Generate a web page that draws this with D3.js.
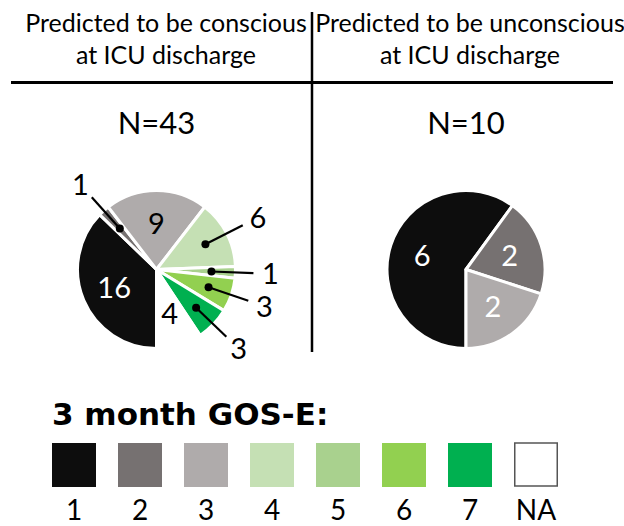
<!DOCTYPE html>
<html><head><meta charset="utf-8">
<script src="https://cdn.jsdelivr.net/npm/d3@7"></script>
<style>
html,body{margin:0;padding:0;background:#fff;}
svg{display:block;}
</style></head>
<body>
<svg id="chart" width="624" height="526"></svg>
<script>
// ---- data ----
const gosCategories = ["1", "2", "3", "4", "5", "6", "7", "NA"];
const gosColors = ["#0d0d0d", "#767171", "#afabab", "#c5e0b4", "#a9d18e", "#92d050", "#00b050", "#ffffff"];
const consciousCounts = [16, 1, 9, 6, 1, 3, 3, 4];
const unconsciousCounts = [6, 2, 2, 0, 0, 0, 0, 0];
const groupTitles = [["Predicted to be conscious", "at ICU discharge"], ["Predicted to be unconscious", "at ICU discharge"]];
const groupN = ["N=43", "N=10"];
const legendTitle = "3 month GOS-E:";
// slices labelled outside with leader lines (left pie)
const consciousOutside = ["2", "4", "5", "6", "7"];
const consciousLabelColor = ["#fff", "#000", "#000", "#000", "#000", "#000", "#000", "#000"];
const unconsciousLabelColor = ["#fff", "#fff", "#fff", "#000", "#000", "#000", "#000", "#000"];

const svg = d3.select("#chart");
const font = "Lato, 'Open Sans', sans-serif";

// ---- headers ----
const headerX = [166, 470];
groupTitles.forEach((lines, i) => {
  lines.forEach((t, j) => {
    svg.append("text").attr("x", headerX[i]).attr("y", 32 + j * 32)
      .attr("text-anchor", "middle").attr("font-family", font).attr("font-size", 25)
      .attr("fill", "#000").text(t);
  });
});
svg.append("line").attr("x1", 11).attr("x2", 613).attr("y1", 82.5).attr("y2", 82.5)
  .attr("stroke", "#000").attr("stroke-width", 3);
svg.append("line").attr("x1", 312).attr("x2", 312).attr("y1", 12).attr("y2", 352)
  .attr("stroke", "#000").attr("stroke-width", 2.5);

const pieCenters = [[156.5, 269.5], [466, 269.5]];
groupN.forEach((t, i) => {
  svg.append("text").attr("x", pieCenters[i][0]).attr("y", 134)
    .attr("text-anchor", "middle").attr("font-family", font).attr("font-size", 31)
    .attr("fill", "#000").text(t);
});

// ---- pies ----
const R = 79;
const pie = d3.pie().sort(null).value(d => d.v).startAngle(Math.PI).endAngle(3 * Math.PI);
const arc = d3.arc().innerRadius(0).outerRadius(R);

function polar(a, r) { return [Math.sin(a) * r, -Math.cos(a) * r]; }

function drawPie(counts, center, outside, labelColors) {
  const data = gosCategories.map((c, i) => ({ c, v: counts[i], col: gosColors[i], lc: labelColors[i] }));
  const arcs = pie(data).filter(d => d.data.v > 0);
  const g = svg.append("g").attr("transform", `translate(${center[0]},${center[1]})`);
  g.selectAll("path.slice").data(arcs).join("path").attr("class", "slice")
    .attr("d", arc).attr("fill", d => d.data.col)
    .attr("stroke", "#fff").attr("stroke-width", 3).attr("stroke-linejoin", "round");
  arcs.forEach(d => {
    const mid = (d.startAngle + d.endAngle) / 2;
    if (outside.includes(d.data.c)) {
      const p0 = polar(mid, 55), p1 = polar(mid, 97), pl = polar(mid, 114);
      g.append("line").attr("x1", p0[0]).attr("y1", p0[1]).attr("x2", p1[0]).attr("y2", p1[1])
        .attr("stroke", "#000").attr("stroke-width", 2.2);
      g.append("circle").attr("cx", p0[0]).attr("cy", p0[1]).attr("r", 4).attr("fill", "#000");
      g.append("text").attr("x", pl[0]).attr("y", pl[1]).attr("dy", "0.36em")
        .attr("text-anchor", "middle").attr("font-family", font).attr("font-size", 29)
        .attr("fill", "#000").text(d.data.v);
    } else {
      const p = polar(mid, 46);
      g.append("text").attr("x", p[0]).attr("y", p[1]).attr("dy", "0.36em")
        .attr("text-anchor", "middle").attr("font-family", font).attr("font-size", 29)
        .attr("fill", d.data.lc).text(d.data.v);
    }
  });
}
drawPie(consciousCounts, pieCenters[0], consciousOutside, consciousLabelColor);
drawPie(unconsciousCounts, pieCenters[1], [], unconsciousLabelColor);

// ---- legend ----
svg.append("text").attr("x", 52).attr("y", 425).attr("font-family", "'DejaVu Sans', sans-serif")
  .attr("font-weight", "bold").attr("font-size", 31).attr("fill", "#000").text(legendTitle);
const lx = d3.scalePoint().domain(gosCategories).range([52, 514]);
const box = 44;
const lg = svg.append("g");
lg.selectAll("rect").data(gosCategories).join("rect")
  .attr("x", d => lx(d) + (d === "NA" ? 0.75 : 0)).attr("y", 443)
  .attr("width", d => d === "NA" ? box - 1.5 : box).attr("height", d => d === "NA" ? box - 1 : box)
  .attr("fill", (d, i) => gosColors[i])
  .attr("stroke", d => d === "NA" ? "#555" : "none").attr("stroke-width", 1.5);
lg.selectAll("text").data(gosCategories).join("text")
  .attr("x", d => lx(d) + box / 2).attr("y", 520)
  .attr("text-anchor", "middle").attr("font-family", font).attr("font-size", 28)
  .attr("fill", "#000").text(d => d);
</script>
</body></html>
